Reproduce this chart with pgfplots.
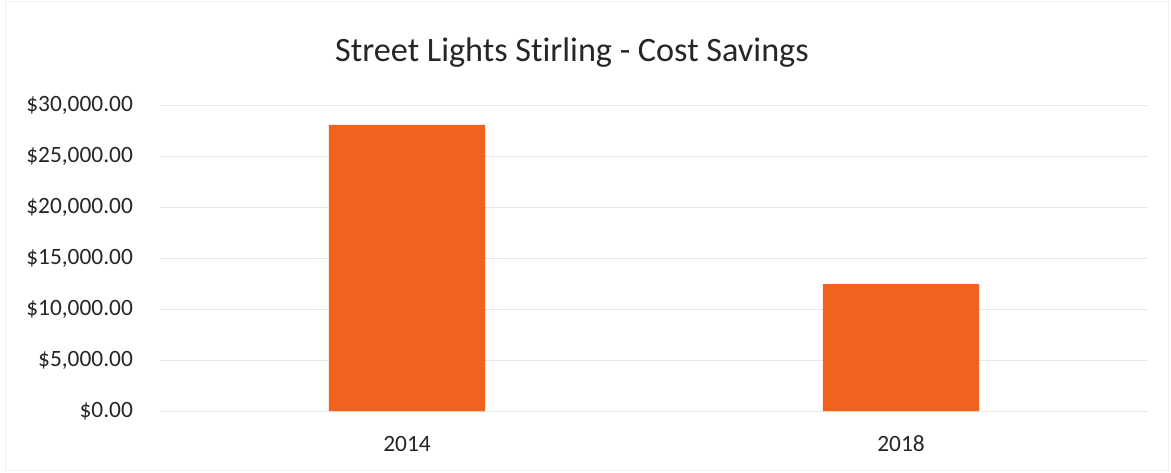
\documentclass[border=0pt]{standalone}
\usepackage{pgfplots}
\pgfplotsset{compat=1.18}
\usepackage{fontspec}
\setmainfont{Carlito}[Ligatures={NoCommon,NoContextual}]
\definecolor{barorange}{HTML}{F0621E}
\definecolor{gridgray}{HTML}{E6E6E6}
\begin{document}
\begin{tikzpicture}[x=1pt,y=1pt]
\path[use as bounding box] (0,0) rectangle (585.5,236);
\draw[gray!12, line width=0.5pt] (2.5,1) rectangle (584,235);
\node[font=\fontsize{17.1}{19}\selectfont, anchor=base, text=black!85] at (286,205) {Street Lights S\kern0pt tirling - Cost Savings};
\begin{axis}[
  at={(80pt,30.5pt)}, anchor=south west,
  scale only axis, width=494pt, height=153pt,
  xmin=-0.5, xmax=1.5, ymin=0, ymax=30000,
  axis line style={draw=none},
  xtick=data, xticklabels={2014,2018},
  scaled y ticks=false,
  ytick={0,5000,10000,15000,20000,25000,30000},
  yticklabels={{\$0.00},{\$5,000.00},{\$10,000.00},{\$15,000.00},{\$20,000.00},{\$25,000.00},{\$30,000.00}},
  tick style={draw=none},
  ymajorgrids, grid style={gridgray, line width=0.5pt},
  ticklabel style={font=\fontsize{11.7}{13}\selectfont, text=black!85},
  yticklabel style={anchor=east, xshift=-10pt},
  xticklabel style={anchor=base, yshift=-16pt},
  /pgf/number format/assume math mode=true,
  ybar, bar width=0.316,
]
\addplot[fill=barorange, draw=none] coordinates {(0,28050) (1,12450)};
\end{axis}
\end{tikzpicture}
\end{document}
